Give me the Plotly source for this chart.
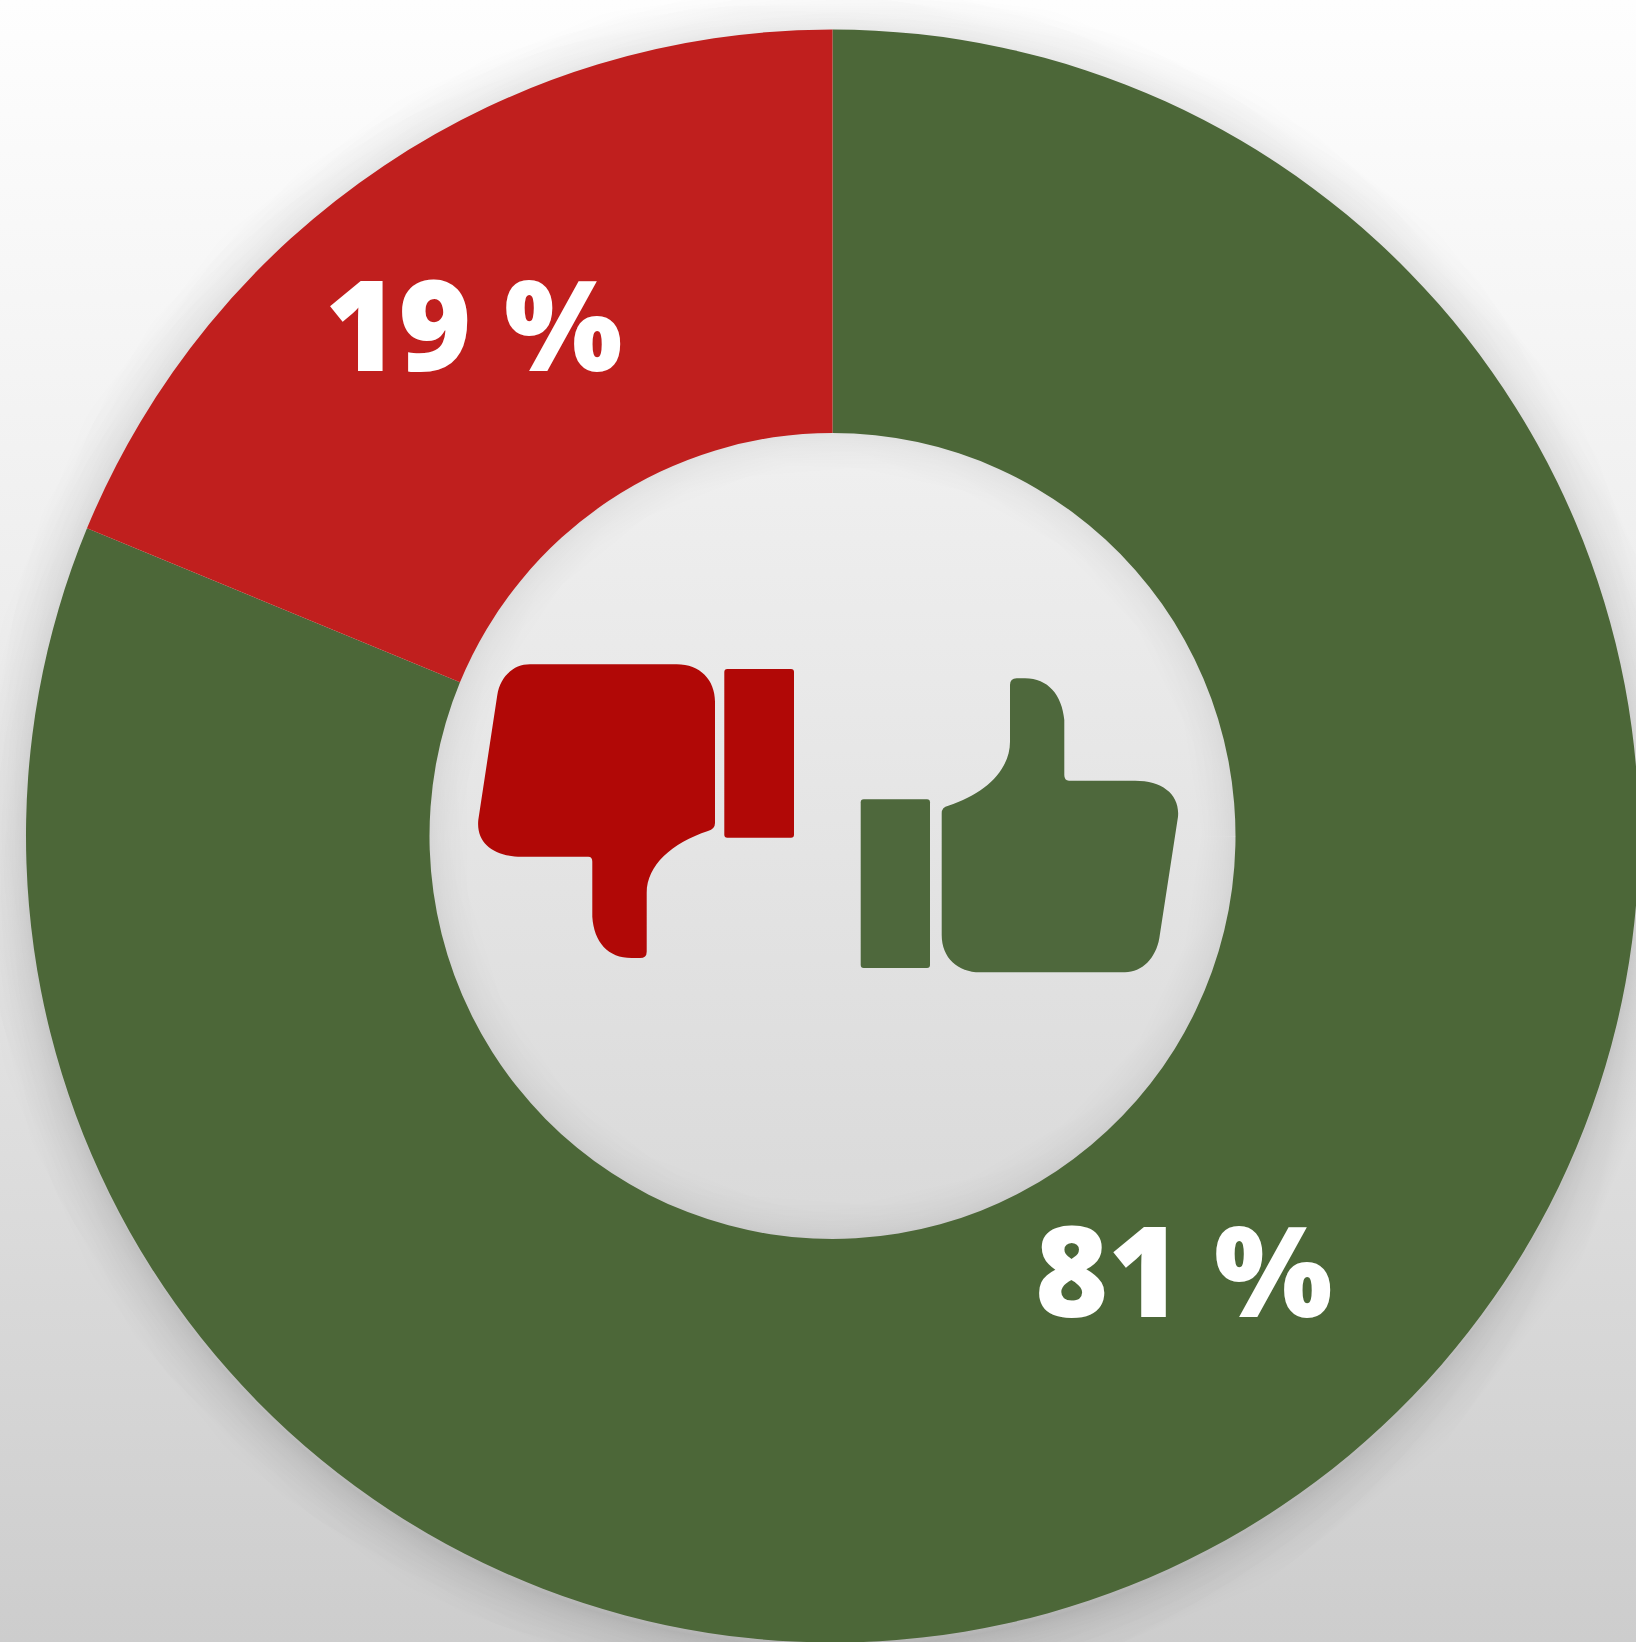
import numpy as np
import plotly.graph_objects as go

# ---- data ----
labels = ["Thumbs up", "Thumbs down"]
values = [81.23, 18.77]
slice_colors = ["#4c6738", "#c01f1e"]
label_texts = ["81 %", "19 %"]
label_x = [1184, 474]
label_y = [1268, 322]

# ---- page geometry (pixels) ----
W, H = 1650, 1650
CX, CY = 832.5, 836
R_OUT, R_IN = 806.5, 403
RED_ICON, GREEN_ICON = "#b10806", "#4e683c"

theta = np.linspace(0, 2 * np.pi, 721)
def circle(r, cy=CY):
    return CX + r * np.cos(theta), cy + r * np.sin(theta)

fig = go.Figure()

# page background
fig.add_trace(go.Scatter(
    x=[0, W, W, 0, 0], y=[0, 0, H, H, 0], mode="lines", line=dict(width=0),
    fill="toself", hoverinfo="skip", showlegend=False,
    fillgradient=dict(type="vertical", start=0, stop=1642,
                      colorscale=[[0, "#fefefe"], [0.5, "#e8e8e8"], [1, "#cdcdcd"]]),
))

# soft shadow outside the ring
for i in range(1, 29):
    half = 52 * (i / 28) ** 1.6
    x, y = circle(R_OUT, CY + 5)
    fig.add_trace(go.Scatter(x=x, y=y, mode="lines", hoverinfo="skip", showlegend=False,
                             line=dict(color="rgba(0,0,0,0.005)", width=2 * half)))

# centre disc
x, y = circle(R_IN + 4)
fig.add_trace(go.Scatter(
    x=x, y=y, mode="lines", line=dict(width=0), fill="toself",
    hoverinfo="skip", showlegend=False,
    fillgradient=dict(type="vertical", start=CY - R_IN, stop=CY + R_IN,
                      colorscale=[[0, "#f0f0f0"], [1, "#d9d9d9"]]),
))
# soft inner shadow on the disc rim
for i in range(1, 17):
    half = 34 * (i / 16) ** 1.6
    x, y = circle(R_IN)
    fig.add_trace(go.Scatter(x=x, y=y, mode="lines", hoverinfo="skip", showlegend=False,
                             line=dict(color="rgba(0,0,0,0.005)", width=2 * half)))

# the donut
fig.add_trace(go.Pie(
    labels=labels, values=values, sort=False, direction="clockwise", rotation=0,
    hole=R_IN / R_OUT, marker=dict(colors=slice_colors, line=dict(width=0)),
    textinfo="none", hoverinfo="label+percent", showlegend=False,
    domain=dict(x=[(CX - R_OUT) / W, (CX + R_OUT) / W],
                y=[1 - (CY + R_OUT) / H, 1 - (CY - R_OUT) / H]),
))

DOWN_HAND = ("M530,664.3 L676.7,664.3 C700,664.3 715,680 715,701.7 L715,823 "
             "Q715,829 708,831 C672,843 646.7,865 646.7,893 L646.7,951.7 Q646.7,958 640,958 "
             "L631.7,958 C608,958 594,942 592.3,916.7 L592.3,861.7 Q592.3,856.7 588.3,856.7 "
             "L521.7,856.7 C494,856.7 476,843 478.3,820 L497.3,695 C500,677 513,664.3 530,664.3 Z")
UP_HAND = ("M941.7,813.3 Q941.7,807 948.3,805.7 C985,794 1010,770 1010,741.7 L1010,685 "
           "Q1010,678.3 1016.7,678.3 L1025,678.3 C1048,678.3 1062,695 1064.3,720 L1064.3,775 "
           "Q1064.3,780.7 1069,780.7 L1135,780.7 C1163,780.7 1180,795 1178,816.7 L1159.3,938.3 "
           "C1156,958 1142,972.3 1125,972.3 L980,972.3 C958,972.3 941.7,958 941.7,935 Z")

def rounded_rect(x0, y0, x1, y1, r=3):
    return (f"M{x0+r},{y0} L{x1-r},{y0} Q{x1},{y0} {x1},{y0+r} L{x1},{y1-r} Q{x1},{y1} {x1-r},{y1} "
            f"L{x0+r},{y1} Q{x0},{y1} {x0},{y1-r} L{x0},{y0+r} Q{x0},{y0} {x0+r},{y0} Z")

icons = [(DOWN_HAND, RED_ICON), (rounded_rect(724.3, 669, 794, 837.7), RED_ICON),
         (UP_HAND, GREEN_ICON), (rounded_rect(860.7, 799.3, 930, 968), GREEN_ICON)]
shapes = [dict(type="path", path=p, xref="x", yref="y", fillcolor=c, line=dict(width=0), layer="above")
          for p, c in icons]

annotations = [dict(x=x, y=y, xref="x", yref="y", text=t, showarrow=False,
                    xanchor="center", yanchor="middle",
                    font=dict(family="Open Sans", size=125, color="white", weight=800))
               for x, y, t in zip(label_x, label_y, label_texts)]

fig.update_layout(
    width=W, height=H, margin=dict(l=0, r=0, t=0, b=0, pad=0),
    paper_bgcolor="#e8e8e8", plot_bgcolor="rgba(0,0,0,0)", showlegend=False,
    xaxis=dict(range=[0, W], visible=False, fixedrange=True, domain=[0, 1]),
    yaxis=dict(range=[H, 0], visible=False, fixedrange=True, domain=[0, 1]),
    shapes=shapes, annotations=annotations,
)

fig.write_html("out.html", config=dict(displayModeBar=False),
               post_script="document.body.style.margin='0';document.documentElement.style.overflow='hidden';document.body.style.overflow='hidden';")
